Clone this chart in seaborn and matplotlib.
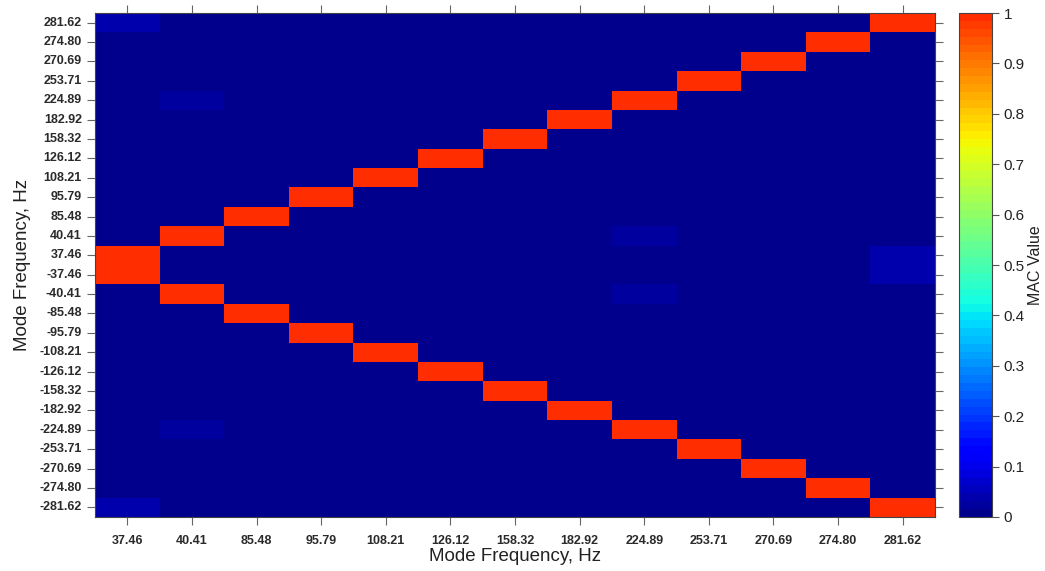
import numpy as np
import pandas as pd
import matplotlib
matplotlib.use("Agg")
import matplotlib.pyplot as plt
import seaborn as sns
from matplotlib.colors import ListedColormap
from matplotlib.ticker import FuncFormatter

# Identified mode frequencies (Hz)
col_freqs = ["37.46", "40.41", "85.48", "95.79", "108.21", "126.12", "158.32",
             "182.92", "224.89", "253.71", "270.69", "274.80", "281.62"]
pos_rows = ["281.62", "274.80", "270.69", "253.71", "224.89", "182.92", "158.32",
            "126.12", "108.21", "95.79", "85.48", "40.41", "37.46"]
neg_rows = ["-37.46", "-40.41", "-85.48", "-95.79", "-108.21", "-126.12", "-158.32",
            "-182.92", "-224.89", "-253.71", "-270.69", "-274.80", "-281.62"]
row_freqs = pos_rows + neg_rows

# MAC of each mode with its +/- counterpart
match_mac = [1.0, 1.0, 1.0, 1.0, 1.0, 1.0, 1.0, 1.0, 1.0, 1.0, 1.0, 1.0, 1.0]

# Weak cross-correlations: (row, column, MAC)
weak_rows = ["281.62", "224.89", "-224.89", "-281.62", "40.41", "-40.41", "37.46", "-37.46"]
weak_cols = ["37.46", "40.41", "40.41", "37.46", "224.89", "224.89", "281.62", "281.62"]
weak_vals = [0.035, 0.03, 0.03, 0.035, 0.03, 0.03, 0.035, 0.035]

mac = pd.DataFrame(0.0, index=row_freqs, columns=col_freqs)
for c, v in zip(col_freqs, match_mac):
    mac.loc[c, c] = v
    mac.loc["-" + c, c] = v
for r, c, v in zip(weak_rows, weak_cols, weak_vals):
    mac.loc[r, c] = v

# Jet palette from navy to orange-red, in 64 steps
cmap = ListedColormap(plt.get_cmap("jet")(np.linspace(0.015, 0.86, 64)))

plt.rcParams["font.family"] = ["Liberation Sans", "DejaVu Sans"]

fig = plt.figure(figsize=(10.45, 5.71), dpi=100)
ax = fig.add_axes([0.0909, 0.0946, 0.8038, 0.8826])
cax = fig.add_axes([0.9177, 0.0946, 0.0316, 0.8826])

sns.heatmap(mac, ax=ax, cbar_ax=cax, cmap=cmap, vmin=0, vmax=1,
            cbar_kws={"ticks": np.round(np.arange(0, 1.01, 0.1), 1)})

ax.tick_params(axis="both", which="both", direction="out", length=6, width=0.8,
               color="#666666", labelsize=9, labelcolor="#2a2a2a",
               top=True, right=True, left=True, bottom=True,
               labeltop=False, labelright=False)
ax.set_yticklabels(row_freqs, rotation=0, fontweight="bold")
ax.set_xticklabels(col_freqs, rotation=0, fontweight="bold")
ax.tick_params(axis="x", pad=7)
for sp in ax.spines.values():
    sp.set_visible(True)
    sp.set_color("#444444")
    sp.set_linewidth(0.8)

ax.set_xlabel("Mode Frequency, Hz", fontsize=13.5, color="#222222", labelpad=1)
ax.set_ylabel("Mode Frequency, Hz", fontsize=13.5, color="#222222", labelpad=6)

cb = ax.collections[0].colorbar
cb.outline.set_visible(True)
cb.outline.set_linewidth(0.8)
cb.outline.set_edgecolor("#444444")
cb.ax.yaxis.set_major_formatter(FuncFormatter(lambda v, p: f"{v:g}"))
cb.ax.tick_params(labelsize=11, labelcolor="#222222", length=5, color="#555555")
cb.set_label("MAC Value", fontsize=11.5, color="#222222", labelpad=2)

fig.savefig("out.png", dpi=100)
